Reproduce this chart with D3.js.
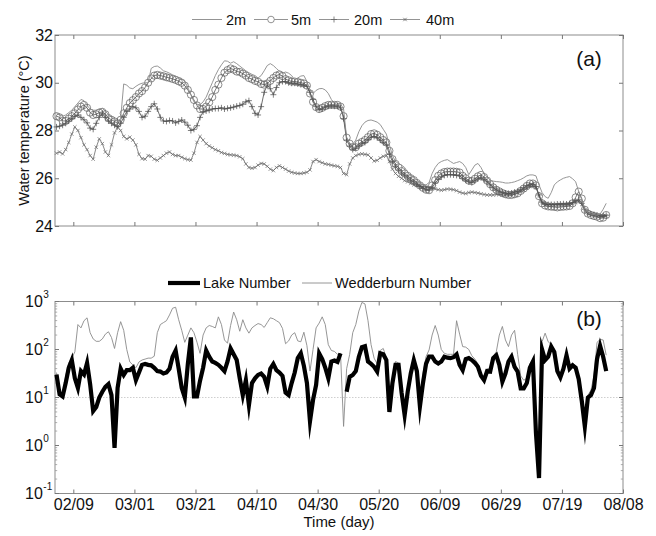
<!DOCTYPE html>
<html>
<head>
<meta charset="utf-8">
<script src="https://cdn.jsdelivr.net/npm/d3@7"></script>
<style>
  body { margin: 0; background: #fff; }
  svg { display: block; }
  text { font-family: "Liberation Sans", Arial, Helvetica, sans-serif; fill: #111; }
</style>
</head>
<body>
<svg id="chart" width="656" height="536"></svg>
<script>
// Daily series, first value on 3 Feb, last on 1 Aug (non-leap year).
const firstDay = [2013, 1, 3];

// Water temperature (°C) at four depths
const t2m = [
  28.72,28.65,28.6,28.65,28.75,28.85,29.0,29.15,29.3,29.25,
  29.05,28.9,28.85,28.85,28.9,28.93,28.8,28.68,28.55,28.45,
  28.38,28.5,29.95,29.9,29.78,29.75,29.85,29.93,29.98,30.0,
  30.0,30.6,30.68,30.7,30.62,30.5,30.46,30.4,30.33,30.28,
  30.22,30.18,30.05,29.8,29.5,29.2,29.1,29.08,29.2,29.4,
  29.7,30.0,30.3,30.55,30.75,30.92,30.9,30.82,30.88,30.8,
  30.7,30.6,30.5,30.42,30.35,30.3,30.2,30.3,30.5,30.72,
  30.8,30.72,30.6,30.48,30.4,30.45,30.4,30.3,30.12,30.2,
  30.28,30.3,30.05,29.7,29.55,29.68,29.75,29.76,29.7,29.55,
  29.3,29.15,29.08,29.12,28.9,27.7,27.45,27.42,27.6,27.95,
  28.2,28.35,28.42,28.44,28.4,28.35,28.25,28.05,27.85,27.4,
  26.95,26.7,26.62,26.55,26.45,26.25,26.1,26.05,25.92,25.82,
  25.72,25.72,25.82,26.2,26.45,26.62,26.7,26.75,26.78,26.7,
  26.62,26.66,26.7,26.62,26.45,26.15,26.35,26.55,26.62,26.45,
  26.2,26.05,25.92,25.88,25.86,25.85,25.83,25.8,25.8,25.82,
  25.85,25.9,25.95,26.02,26.1,26.14,26.14,26.1,25.72,25.4,
  25.23,25.16,25.4,25.72,25.85,25.93,26.0,26.04,26.07,25.98,
  25.85,25.44,25.1,24.7,24.55,24.5,24.48,24.45,24.5,24.7,
  24.95
];
const t5m = [
  28.6,28.55,28.4,28.4,28.5,28.6,28.72,28.88,29.0,29.07,
  28.95,28.75,28.65,28.68,28.75,28.78,28.68,28.52,28.45,28.38,
  28.3,28.45,28.72,28.95,29.15,29.27,29.4,29.55,29.65,29.8,
  30.0,30.18,30.3,30.33,30.3,30.27,30.23,30.2,30.16,30.12,
  30.06,30.0,29.88,29.7,29.5,29.28,29.05,28.9,28.9,29.0,
  29.18,29.4,29.7,29.92,30.2,30.42,30.53,30.6,30.55,30.47,
  30.45,30.38,30.3,30.2,30.15,30.08,30.04,29.95,29.92,29.97,
  30.08,30.2,30.3,30.35,30.28,30.15,30.1,30.05,30.05,30.03,
  30.0,29.97,29.88,29.55,29.2,28.98,28.9,28.95,29.02,29.07,
  29.08,29.07,29.07,29.0,28.6,27.7,27.45,27.3,27.3,27.45,
  27.52,27.6,27.72,27.85,27.88,27.82,27.72,27.6,27.5,27.15,
  26.8,26.6,26.45,26.3,26.2,26.1,26.0,25.92,25.8,25.7,
  25.6,25.52,25.5,25.7,25.92,26.1,26.2,26.26,26.28,26.28,
  26.28,26.27,26.24,26.1,26.0,25.9,25.88,25.98,26.08,26.14,
  26.05,25.9,25.75,25.62,25.52,25.45,25.38,25.33,25.3,25.3,
  25.33,25.37,25.47,25.57,25.68,25.78,25.78,25.7,25.25,24.95,
  24.86,24.82,24.81,24.8,24.78,24.8,24.81,24.82,24.84,24.95,
  25.2,25.44,25.15,24.68,24.52,24.46,24.42,24.39,24.33,24.35,
  24.46
];
const t20m = [
  28.15,28.18,28.22,28.3,28.4,28.5,28.6,28.65,28.55,28.45,
  28.32,28.1,28.05,28.3,28.55,28.72,28.55,28.4,28.3,28.22,
  28.16,28.3,28.55,28.8,28.9,29.0,28.95,28.8,28.55,28.6,
  28.8,29.0,29.12,28.9,28.55,28.4,28.38,28.42,28.4,28.32,
  28.38,28.44,28.35,28.22,28.0,28.05,28.2,28.55,28.78,28.82,
  28.85,28.9,28.92,28.92,28.95,28.9,28.93,28.95,28.98,29.02,
  29.05,29.1,29.2,29.25,29.0,28.72,28.65,29.0,29.6,29.9,
  29.75,29.5,29.8,30.0,30.05,30.05,30.0,29.98,29.98,29.95,
  29.92,29.9,29.85,29.6,29.3,29.0,28.88,28.9,28.98,29.02,
  29.03,29.02,29.02,28.95,28.5,27.6,27.35,27.2,27.25,27.35,
  27.45,27.5,27.62,27.72,27.75,27.7,27.6,27.5,27.4,27.0,
  26.7,26.5,26.35,26.22,26.12,26.02,25.92,25.85,25.75,25.65,
  25.58,25.52,25.5,25.62,25.8,25.95,26.05,26.12,26.15,26.15,
  26.14,26.12,26.1,26.0,25.92,25.85,25.82,25.9,25.98,26.02,
  25.95,25.85,25.72,25.6,25.52,25.45,25.4,25.38,25.36,25.38,
  25.42,25.45,25.52,25.6,25.68,25.72,25.75,25.65,25.3,25.0,
  24.92,24.9,24.9,24.9,24.92,24.92,24.93,24.92,24.93,24.98,
  25.05,25.1,24.95,24.7,24.55,24.5,24.48,24.45,24.42,24.42,
  24.45
];
const t40m = [
  27.05,27.1,27.02,27.2,27.5,27.85,28.15,28.0,27.7,27.4,
  27.2,26.95,26.8,27.3,27.65,27.45,27.1,26.95,27.4,27.9,
  28.15,28.0,27.75,27.65,27.72,27.6,27.4,27.0,26.82,26.8,
  26.95,26.92,26.8,26.75,26.85,26.95,27.05,27.1,27.0,26.95,
  26.95,26.88,26.82,26.78,26.76,27.05,27.5,27.75,27.6,27.45,
  27.35,27.28,27.2,27.15,27.08,27.04,27.0,26.98,26.97,26.95,
  26.9,26.82,26.6,26.45,26.42,26.45,26.55,26.62,26.6,26.5,
  26.38,26.32,26.45,26.52,26.45,26.38,26.3,26.25,26.22,26.2,
  26.2,26.22,26.25,26.35,26.7,26.78,26.7,26.65,26.6,26.58,
  26.55,26.52,26.5,26.45,26.2,26.15,26.6,26.85,26.95,27.0,
  27.02,27.0,26.98,26.85,26.72,26.75,26.85,26.92,26.95,26.7,
  26.38,26.2,26.08,26.0,25.9,25.85,25.78,25.72,25.7,25.66,
  25.64,25.63,25.6,25.58,25.55,25.52,25.5,25.52,25.55,25.54,
  25.52,25.48,25.42,25.38,25.36,25.4,25.42,25.4,25.38,25.35,
  25.32,25.3,25.3,25.3,25.32,25.32,25.3,25.3,25.3,25.32,
  25.35,25.4,25.45,25.5,25.58,25.65,25.68,25.6,25.28,24.98,
  24.9,24.88,24.88,24.88,24.9,24.9,24.9,24.9,24.9,24.95,
  25.0,25.02,24.9,24.68,24.52,24.48,24.45,24.42,24.4,24.4,
  24.42
];

// Stability indices (dimensionless); null = no value that day
const lakeNumber = [
  30,11.7,10.5,20,41.7,60.3,25.1,15.8,35.5,30.2,
  52.5,19,5.2,6.3,10,13.2,16.6,19,11.2,0.89,
  15.8,39.8,29.5,37.2,37.2,41.7,22.9,33.1,47.9,50.1,
  47.9,46.8,41.7,35.5,34.7,31.6,33.1,39.8,70.8,95.5,
  39.8,15.8,10,50,178,10.5,10.5,22.4,41.7,95.5,
  70.8,56.2,52.5,47.9,41.7,35.5,56.2,105,79.4,60.3,
  25.1,11.2,22.9,6.9,20,25.1,29.5,31.6,26.9,17,
  39.8,50.1,37.2,33.1,28.2,12.6,11.2,20,33.1,66.1,
  83.2,45.7,20,3.2,8.9,18.2,83.2,63.1,41.7,25.1,
  56.2,58.9,55,83.2,null,13.2,26.9,29.5,35.5,70.8,
  112,117,56.2,50.1,43.7,34.7,83.2,79.4,60.3,5.0,
  20,47.9,47.9,12.6,4.3,13.2,31.6,60.3,35.5,6.5,
  20,50.1,70.8,70.8,56.2,51.3,56.2,70.8,67.6,66.1,
  69.2,79.4,47.9,37.2,63.1,66.1,60.3,52.5,43.7,28.2,
  22.9,35.5,34.7,66.1,75.9,47.9,21.4,31.6,56.2,70.8,
  43.7,34.7,15.5,15.5,20,41.7,56.2,1.8,0.21,100,
  60.3,70.8,115,89.1,35.5,26.3,39.8,75.9,39.8,46.8,
  41.7,24,8.5,2.5,10,11.2,15.8,63.1,120,70.8,
  35.5
];
const wedderburnNumber = [
  33.1,13.2,12,28.2,52.5,66.1,89.1,331,282,398,
  457,224,166,148,148,166,209,234,178,105,
  224,380,251,100,55,47.9,41.7,55,60.3,63.1,
  66.1,66.1,72.4,224,331,363,398,525,724,759,
  417,251,141,200,282,224,141,83.2,200,282,
  316,302,282,479,331,158,135,316,603,417,
  240,417,282,219,282,316,347,331,288,363,
  457,437,398,363,275,132,151,200,224,151,
  145,229,120,35.5,100,282,355,479,331,126,
  95.5,91.2,79.4,83.2,2.5,39.8,79.4,224,331,631,
  955,891,398,126,66.1,50.1,95.5,105,66.1,5.6,
  22.4,56.2,52.5,14.1,4.8,14.5,35.5,66.1,39.8,7.6,
  31.6,70.8,98,200,316,200,100,83.2,79.4,79.4,
  79.4,398,209,115,112,100,74.1,63.1,50.1,31.6,
  26.3,39.8,39.8,72.4,89.1,200,302,158,115,200,
  251,79.4,28.2,22.9,25.1,50.1,63.1,2.0,0.22,145,
  219,145,126,100,39.8,30.2,44.7,83.2,43.7,52.5,
  45.7,26.3,9.5,2.6,11.2,14.1,28.2,141,162,158,
  75.9
];

const dateTicks = ["02/09","03/01","03/21","04/10","04/30","05/20","06/09","06/29","07/19","08/08"];
const tempTicks = [24, 26, 28, 30, 32];
const logTicks = [-1, 0, 1, 2, 3];
const depthNames = ["2m", "5m", "20m", "40m"];
const indexNames = ["Lake Number", "Wedderburn Number"];

// ---------------------------------------------------------------
const svg = d3.select("#chart");
const FONT = "'Liberation Sans', Arial, sans-serif";
const FRAME = "#8c8c8c";

const dayStart = new Date(firstDay[0], firstDay[1], firstDay[2], 12);
const dates = t2m.map((_, i) => d3.timeDay.offset(dayStart, i));
const parseTick = d3.timeParse("%Y/%m/%d");
const tickDates = dateTicks.map(s => parseTick(firstDay[0] + "/" + s));

const x = d3.scaleTime()
  .domain([new Date(firstDay[0], 1, 3), new Date(firstDay[0], 7, 8)])
  .range([55, 623]);

const panelA = { top: 35, bottom: 226 };
const panelB = { top: 301.5, bottom: 493.5 };

const yA = d3.scaleLinear().domain([24, 32]).range([panelA.bottom, panelA.top]);
const yB = d3.scaleLog().domain([0.1, 1000]).range([panelB.bottom, panelB.top]);

function styleAxis(g) {
  g.select(".domain").remove();
  g.selectAll(".tick line").attr("stroke", "#777").attr("stroke-width", 1);
  g.selectAll(".tick text").attr("font-family", FONT).attr("font-size", 16).attr("fill", "#111");
}

function frame(p) {
  svg.append("rect")
    .attr("x", x.range()[0]).attr("y", p.top)
    .attr("width", x.range()[1] - x.range()[0]).attr("height", p.bottom - p.top)
    .attr("fill", "none").attr("stroke", FRAME).attr("stroke-width", 1);
}

// ============ Panel (a): water temperature ============
frame(panelA);

svg.append("g").attr("transform", `translate(0,${panelA.bottom})`)
  .call(d3.axisBottom(x).tickValues(tickDates).tickSize(-4).tickFormat(""))
  .call(styleAxis);
svg.append("g").attr("transform", `translate(0,${panelA.top})`)
  .call(d3.axisTop(x).tickValues(tickDates).tickSize(-4).tickFormat(""))
  .call(styleAxis);
svg.append("g").attr("transform", `translate(${x.range()[0]},0)`)
  .call(d3.axisLeft(yA).tickValues(tempTicks).tickSize(-4).tickPadding(2).tickFormat(d3.format("d")))
  .call(styleAxis);
svg.append("g").attr("transform", `translate(${x.range()[1]},0)`)
  .call(d3.axisRight(yA).tickValues(tempTicks).tickSize(-4).tickFormat(""))
  .call(styleAxis);

svg.append("text")
  .attr("transform", `translate(29,${(panelA.top + panelA.bottom) / 2}) rotate(-90)`)
  .attr("text-anchor", "middle").attr("font-size", 14.5)
  .text("Water temperature (°C)");

svg.append("text").attr("x", 589).attr("y", 66).attr("text-anchor", "middle")
  .attr("font-size", 21).text("(a)");

const lineA = d3.line().x((d, i) => x(dates[i])).y(d => yA(d));

const gA = svg.append("g");

// 40 m: line with small x markers
gA.append("path").datum(t40m).attr("d", lineA)
  .attr("fill", "none").attr("stroke", "#6a6a6a").attr("stroke-width", 0.8);
gA.append("g").selectAll("path").data(t40m).join("path")
  .attr("transform", (d, i) => `translate(${x(dates[i])},${yA(d)})`)
  .attr("d", "M-1.7,-1.7L1.7,1.7M-1.7,1.7L1.7,-1.7")
  .attr("stroke", "#6a6a6a").attr("stroke-width", 0.7);

// 20 m: line with + markers
gA.append("path").datum(t20m).attr("d", lineA)
  .attr("fill", "none").attr("stroke", "#4a4a4a").attr("stroke-width", 0.8);
gA.append("g").selectAll("path").data(t20m).join("path")
  .attr("transform", (d, i) => `translate(${x(dates[i])},${yA(d)})`)
  .attr("d", "M-3,0L3,0M0,-3L0,3")
  .attr("stroke", "#4a4a4a").attr("stroke-width", 0.7);

// 5 m: line with open circles
gA.append("path").datum(t5m).attr("d", lineA)
  .attr("fill", "none").attr("stroke", "#555").attr("stroke-width", 0.8);
gA.append("g").selectAll("circle").data(t5m).join("circle")
  .attr("cx", (d, i) => x(dates[i])).attr("cy", d => yA(d)).attr("r", 3.6)
  .attr("fill", "none").attr("stroke", "#5a5a5a").attr("stroke-width", 0.7);

// 2 m: plain thin line
gA.append("path").datum(t2m).attr("d", lineA)
  .attr("fill", "none").attr("stroke", "#8a8a8a").attr("stroke-width", 0.9);

// legend for panel (a)
const legA = svg.append("g").attr("font-size", 14.5);
const legAItems = [
  { name: depthNames[0], x0: 192, x1: 222, tx: 226, mark: null },
  { name: depthNames[1], x0: 254, x1: 288, tx: 291, mark: "circle" },
  { name: depthNames[2], x0: 319, x1: 349, tx: 354, mark: "plus" },
  { name: depthNames[3], x0: 390, x1: 420, tx: 426, mark: "cross" }
];
const legY = 19.5;
legAItems.forEach(it => {
  legA.append("line").attr("x1", it.x0).attr("x2", it.x1).attr("y1", legY).attr("y2", legY)
    .attr("stroke", "#888").attr("stroke-width", 0.9);
  const cx = (it.x0 + it.x1) / 2;
  if (it.mark === "circle") {
    legA.append("circle").attr("cx", cx).attr("cy", legY).attr("r", 3.3)
      .attr("fill", "#fff").attr("stroke", "#777").attr("stroke-width", 0.8);
  } else if (it.mark === "plus") {
    legA.append("path").attr("transform", `translate(${cx},${legY})`)
      .attr("d", "M-3,0L3,0M0,-3L0,3").attr("stroke", "#666").attr("stroke-width", 0.8);
  } else if (it.mark === "cross") {
    legA.append("path").attr("transform", `translate(${cx},${legY})`)
      .attr("d", "M-1.7,-1.7L1.7,1.7M-1.7,1.7L1.7,-1.7").attr("stroke", "#666").attr("stroke-width", 0.8);
  }
  legA.append("text").attr("x", it.tx).attr("y", legY + 5).text(it.name);
});

// ============ Panel (b): Lake and Wedderburn numbers ============
// light dotted reference line at 10^1
svg.append("line")
  .attr("x1", x.range()[0]).attr("x2", x.range()[1])
  .attr("y1", yB(10)).attr("y2", yB(10))
  .attr("stroke", "#cfcfcf").attr("stroke-width", 1).attr("stroke-dasharray", "1.5,1.5");

frame(panelB);

svg.append("g").attr("transform", `translate(0,${panelB.bottom})`)
  .call(d3.axisBottom(x).tickValues(tickDates).tickSize(-4).tickPadding(5.5)
    .tickFormat((d, i) => dateTicks[i]))
  .call(styleAxis);
svg.append("g").attr("transform", `translate(0,${panelB.top})`)
  .call(d3.axisTop(x).tickValues(tickDates).tickSize(-4).tickFormat(""))
  .call(styleAxis);

// log axis: majors at each decade, minors at 2..9
const majors = logTicks.map(e => Math.pow(10, e));
const minors = [];
for (let e = -1; e < 3; e++) for (let m = 2; m <= 9; m++) minors.push(m * Math.pow(10, e));

[[x.range()[0], 1], [x.range()[1], -1]].forEach(([xx, dir]) => {
  const g = svg.append("g");
  g.selectAll("line.major").data(majors).join("line").attr("class", "major")
    .attr("x1", xx).attr("x2", xx + dir * 4).attr("y1", d => yB(d)).attr("y2", d => yB(d))
    .attr("stroke", "#777");
  g.selectAll("line.minor").data(minors).join("line").attr("class", "minor")
    .attr("x1", xx).attr("x2", xx + dir * 2.2).attr("y1", d => yB(d)).attr("y2", d => yB(d))
    .attr("stroke", "#999").attr("stroke-width", 0.8);
});

const yLab = svg.append("g");
logTicks.forEach(e => {
  const yy = yB(Math.pow(10, e));
  const t = yLab.append("text").attr("x", 25).attr("y", yy + 5.8).attr("font-size", 16);
  t.append("tspan").text("10");
  t.append("tspan").attr("font-size", 10).attr("dy", -9.5).attr("dx", 0.5).text(String(e));
});

svg.append("text").attr("x", 589).attr("y", 326).attr("text-anchor", "middle")
  .attr("font-size", 21).text("(b)");

svg.append("text").attr("x", 339).attr("y", 527).attr("text-anchor", "middle")
  .attr("font-size", 15).text("Time (day)");

const lineB = d3.line()
  .defined(d => d != null)
  .x((d, i) => x(dates[i])).y(d => yB(d));

svg.append("path").datum(wedderburnNumber).attr("d", lineB)
  .attr("fill", "none").attr("stroke", "#8a8a8a").attr("stroke-width", 0.9);
svg.append("path").datum(lakeNumber).attr("d", lineB)
  .attr("fill", "none").attr("stroke", "#000").attr("stroke-width", 4.2)
  .attr("stroke-linejoin", "miter").attr("stroke-miterlimit", 10);

// legend for panel (b)
const legB = svg.append("g").attr("font-size", 14.6);
const legBY = 283;
legB.append("line").attr("x1", 168).attr("x2", 200).attr("y1", legBY).attr("y2", legBY)
  .attr("stroke", "#000").attr("stroke-width", 4.2);
legB.append("text").attr("x", 203).attr("y", legBY + 5).text(indexNames[0]);
legB.append("line").attr("x1", 302).attr("x2", 332).attr("y1", legBY).attr("y2", legBY)
  .attr("stroke", "#8a8a8a").attr("stroke-width", 0.9);
legB.append("text").attr("x", 335).attr("y", legBY + 5).text(indexNames[1]);
</script>
</body>
</html>
